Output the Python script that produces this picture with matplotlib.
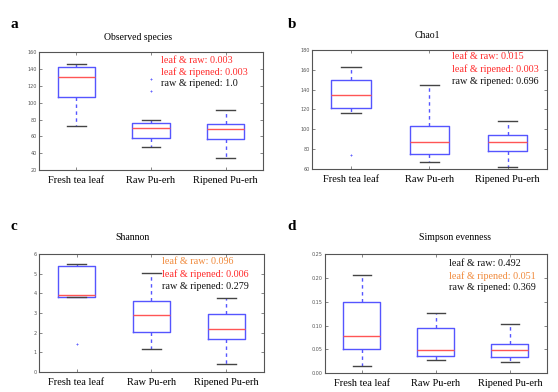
import matplotlib
matplotlib.use("Agg")
import matplotlib.pyplot as plt

categories = ["Fresh tea leaf", "Raw Pu-erh", "Ripened Pu-erh"]

# box statistics per panel: (whislo, q1, med, q3, whishi, fliers)
obs_stats = [(72.5, 106.8, 130.8, 142.3, 145.8, []),
             (47.2, 58.3, 70.5, 76.0, 79.2, [128.0, 114.3]),
             (33.8, 56.7, 69.3, 74.8, 91.8, [])]
chao_stats = [(116.0, 121.7, 134.7, 149.5, 162.6, [74.4]),
              (67.0, 74.7, 87.5, 102.9, 144.1, []),
              (62.0, 78.4, 87.1, 93.8, 108.3, [])]
shan_stats = [(3.82, 3.82, 3.92, 5.37, 5.51, [1.4]),
              (1.19, 2.03, 2.91, 3.61, 5.01, []),
              (0.41, 1.69, 2.18, 2.93, 3.77, [])]
simp_stats = [(0.0155, 0.050, 0.078, 0.150, 0.206, []),
              (0.028, 0.036, 0.0486, 0.095, 0.126, []),
              (0.0225, 0.033, 0.0486, 0.0606, 0.104, [])]

titles = ["Observed species", "Chao1", "Shannon", "Simpson evenness"]
panel_letters = ["a", "b", "c", "d"]
ylims = [(20, 160), (60, 180), (0, 6), (0, 0.25)]
yticks = [[20, 40, 60, 80, 100, 120, 140, 160],
          [60, 80, 100, 120, 140, 160, 180],
          [0, 1, 2, 3, 4, 5, 6],
          [0.00, 0.05, 0.10, 0.15, 0.20, 0.25]]
ytick_fmt = ["{:.0f}", "{:.0f}", "{:.0f}", "{:.2f}"]

pvals = [["leaf & raw: 0.003", "leaf & ripened: 0.003", "raw & ripened: 1.0"],
         ["leaf & raw: 0.015", "leaf & ripened: 0.003", "raw & ripened: 0.696"],
         ["leaf & raw: 0.096", "leaf & ripened: 0.006", "raw & ripened: 0.279"],
         ["leaf & raw: 0.492", "leaf & ripened: 0.051", "raw & ripened: 0.369"]]
RED, ORA, BLK = "#ff2a2a", "#f08a3c", "#111111"
pcolors = [[RED, RED, BLK], [RED, RED, BLK], [ORA, RED, BLK], [BLK, ORA, BLK]]

all_stats = [obs_stats, chao_stats, shan_stats, simp_stats]

# layout (figure fractions)
axes_rects = [[0.070, 0.566, 0.401, 0.301],
              [0.559, 0.569, 0.421, 0.304],
              [0.070, 0.051, 0.403, 0.301],
              [0.582, 0.048, 0.398, 0.304]]
title_pos = [(138 / 558, 1 - 38 / 392), (427 / 558, 1 - 36 / 392),
             (132 / 558, 1 - 238 / 392), (455 / 558, 1 - 238 / 392)]
letter_pos = [(14 / 558, 1 - 25 / 392), (292 / 558, 1 - 25 / 392),
              (14 / 558, 1 - 227 / 392), (292 / 558, 1 - 226 / 392)]
ptext_pos = [(0.545, 0.932, 0.099), (0.597, 0.94, 0.105),
             (0.547, 0.935, 0.104), (0.559, 0.918, 0.100)]

serif = ["Liberation Serif", "DejaVu Serif"]

fig = plt.figure(figsize=(5.58, 3.92), dpi=100)
fig.patch.set_facecolor("white")

for i in range(4):
    ax = fig.add_axes(axes_rects[i])
    stats = []
    for (lo, q1, med, q3, hi, fl) in all_stats[i]:
        stats.append(dict(whislo=lo, q1=q1, med=med, q3=q3, whishi=hi, fliers=fl))
    ax.bxp(stats, positions=[1, 2, 3], widths=0.5, showfliers=True,
           boxprops=dict(color="#5555ff", linewidth=1.0),
           medianprops=dict(color="#ff5555", linewidth=1.0),
           whiskerprops=dict(color="#5555ff", linewidth=1.0, linestyle=(0, (2.5, 2.5))),
           capprops=dict(color="#444444", linewidth=1.0),
           flierprops=dict(marker="+", markeredgecolor="#6666ff", markersize=1.8,
                           markeredgewidth=0.7, linestyle="none"))
    ax.set_xlim(0.5, 3.5)
    ax.set_ylim(*ylims[i])
    ax.set_yticks(yticks[i])
    ax.set_yticklabels([ytick_fmt[i].format(v) for v in yticks[i]], fontsize=3.5,
                       color="#333333")
    ax.set_xticks([1, 2, 3])
    ax.set_xticklabels(categories, fontsize=7.5, family=serif)
    ax.tick_params(direction="in", length=2, width=0.5, top=True, right=True,
                   colors="#555555", pad=1.5)
    ax.tick_params(axis="x", labelcolor="black", pad=4)
    for s in ax.spines.values():
        s.set_color("#555555")
        s.set_linewidth(0.8)
    x0, y0, dy = ptext_pos[i]
    for j, (t, c) in enumerate(zip(pvals[i], pcolors[i])):
        ax.text(x0, y0 - j * dy, t, transform=ax.transAxes, color=c,
                fontsize=7.3, family=serif, va="center", ha="left")
    fig.text(title_pos[i][0], title_pos[i][1], titles[i], ha="center", va="center",
             fontsize=7, family=serif)
    fig.text(letter_pos[i][0], letter_pos[i][1], panel_letters[i], ha="center",
             va="center", fontsize=11, fontweight="bold", family=serif)

fig.savefig("out.png", dpi=100)
